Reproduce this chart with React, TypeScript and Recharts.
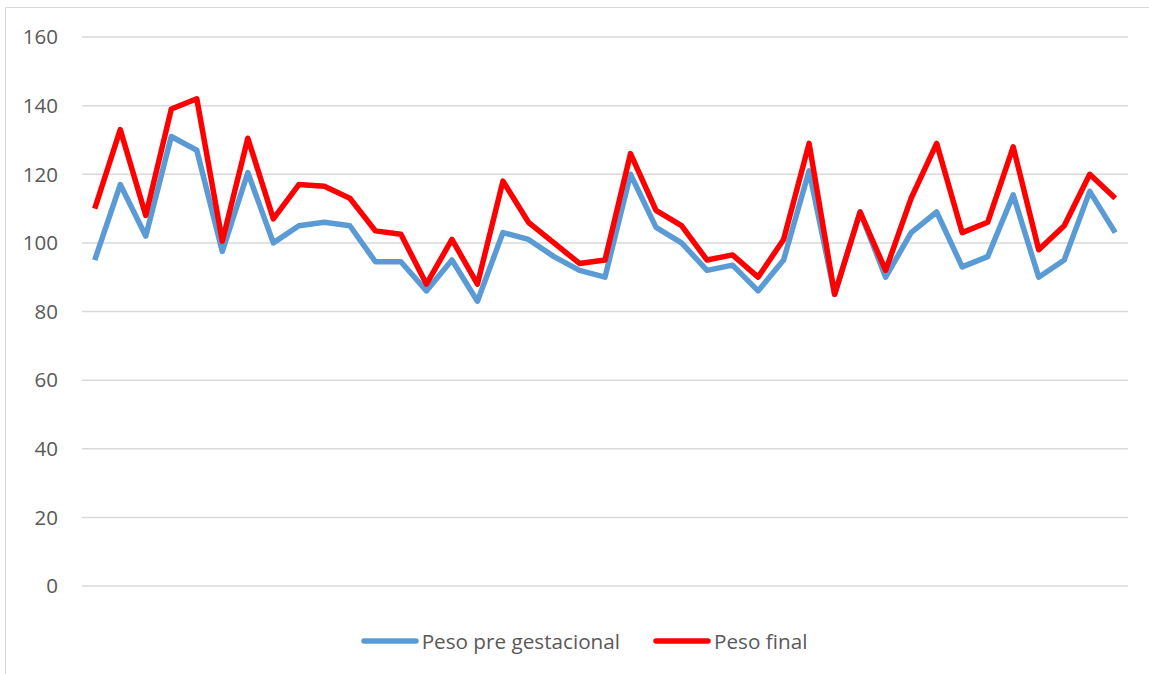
import { LineChart, Line, XAxis, YAxis, CartesianGrid, Legend } from "recharts";

// One entry per patient, 41 in total
const patients = Array.from({ length: 41 }, (_, i) => `${i + 1}`);

const pesoPreGestacional = [
  95, 117, 102, 131, 127, 97.5, 120.5, 100, 105, 106, 105, 94.5, 94.5, 86, 95, 83, 103, 101,
  96, 92, 90, 120, 104.5, 100, 92, 93.5, 86, 95, 121, 85, 109, 90, 103, 109, 93, 96, 114, 90,
  95, 115, 103,
];

const pesoFinal = [
  110, 133, 108, 139, 142, 100.5, 130.5, 107, 117, 116.5, 113, 103.5, 102.5, 88, 101, 88, 118,
  106, 100, 94, 95, 126, 109.5, 105, 95, 96.5, 90, 101, 129, 85, 109, 92, 113, 129, 103, 106,
  128, 98, 105, 120, 113,
];

const yTicks = [0, 20, 40, 60, 80, 100, 120, 140, 160];

const BLUE = "#5B9BD5";
const RED = "#FF0000";
const TEXT = "#595959";
const GRID = "#D9D9D9";
const FONT = "'Open Sans', sans-serif";

const chartData = patients.map((p, i) => ({
  paciente: p,
  pre: pesoPreGestacional[i],
  final: pesoFinal[i],
}));

const legendItems = [
  { label: "Peso pre gestacional", color: BLUE },
  { label: "Peso final", color: RED },
];

function LegendRow() {
  return (
    <div
      style={{
        height: 30,
        display: "flex",
        justifyContent: "center",
        alignItems: "center",
        gap: 33,
        fontFamily: FONT,
        fontSize: 20.7,
        color: TEXT,
        paddingLeft: 40,
      }}
    >
      {legendItems.map((item) => (
        <div key={item.label} style={{ display: "flex", alignItems: "center" }}>
          <svg width={58} height={10} style={{ marginRight: 3 }}>
            <line x1={3} y1={5} x2={55} y2={5} stroke={item.color} strokeWidth={5.5} strokeLinecap="round" />
          </svg>
          <span>{item.label}</span>
        </div>
      ))}
    </div>
  );
}

export default function App() {
  return (
    <div style={{ position: "absolute", left: 0, top: 0, width: 1149, height: 674, overflow: "hidden", background: "#fff" }}>
      <div
        style={{
          position: "absolute",
          left: 5,
          top: 7,
          width: 1160,
          height: 700,
          border: `1px solid ${GRID}`,
        }}
      />
      <div style={{ position: "absolute", left: 0, top: 0 }}>
        <LineChart width={1149} height={674} data={chartData} margin={{ top: 37, right: 21, left: 0, bottom: 18 }}>
          <CartesianGrid vertical={false} stroke={GRID} strokeWidth={1.5} />
          <XAxis
            dataKey="paciente"
            height={40}
            tick={false}
            axisLine={false}
            tickLine={false}
            padding={{ left: 12.75, right: 12.75 }}
          />
          <YAxis
            width={82}
            domain={[0, 160]}
            ticks={yTicks}
            axisLine={false}
            tickLine={false}
            tickSize={0}
            tickMargin={24}
            tick={{ fill: TEXT, fontSize: 20.5, fontFamily: FONT }}
          />
          <Legend verticalAlign="bottom" height={30} content={() => <LegendRow />} />
          <Line
            type="linear"
            dataKey="pre"
            stroke={BLUE}
            strokeWidth={5.5}
            strokeLinejoin="round"
            dot={false}
            isAnimationActive={false}
          />
          <Line
            type="linear"
            dataKey="final"
            stroke={RED}
            strokeWidth={5.5}
            strokeLinejoin="round"
            dot={false}
            isAnimationActive={false}
          />
        </LineChart>
      </div>
    </div>
  );
}
